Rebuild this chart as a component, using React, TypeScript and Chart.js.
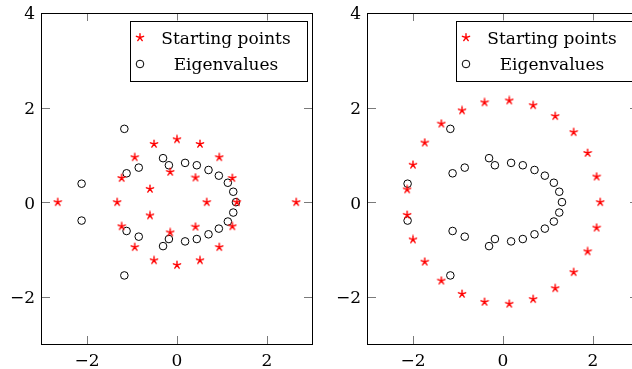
import { useEffect, useRef } from "react";
import { Chart, registerables } from "chart.js";

Chart.register(...registerables);

const xTicks = [-2, 0, 2];
const yTicks = [-2, 0, 2, 4];

const legendLabels = ["Starting points", "Eigenvalues"];

const leftStartX = [-2.65, 2.65, 1.33, 1.23, 0.94, 0.51, 0, -0.51, -0.94, -1.23, -1.33, -1.23, -0.94, -0.51, 0, 0.51, 0.94, 1.23, 0.66, 0.41, -0.15, -0.6, -0.6, -0.15, 0.41];
const leftStartY = [0, 0, 0, 0.51, 0.95, 1.23, 1.33, 1.23, 0.95, 0.51, 0, -0.51, -0.95, -1.23, -1.33, -1.23, -0.95, -0.51, 0, 0.52, 0.64, 0.28, -0.28, -0.64, -0.52];

const rightStartX = [2.16, 2.08, 1.88, 1.57, 1.16, 0.67, 0.14, -0.41, -0.91, -1.37, -1.74, -2.0, -2.13, -2.13, -2.0, -1.74, -1.37, -0.91, -0.41, 0.14, 0.67, 1.16, 1.57, 1.88, 2.08];
const rightStartY = [0, 0.54, 1.04, 1.48, 1.82, 2.05, 2.15, 2.11, 1.94, 1.66, 1.26, 0.79, 0.27, -0.27, -0.79, -1.26, -1.66, -1.94, -2.11, -2.15, -2.05, -1.82, -1.48, -1.04, -0.54];

const eigX = [1.31, 1.25, 1.13, 0.93, 0.7, 0.44, 0.18, -0.18, -0.31, -0.85, -1.12, -1.17, -2.12, -2.12, -1.17, -1.12, -0.85, -0.31, -0.18, 0.18, 0.44, 0.7, 0.93, 1.13, 1.25];
const eigY = [0, 0.22, 0.41, 0.56, 0.68, 0.78, 0.83, 0.78, 0.93, 0.73, 0.61, 1.55, 0.39, -0.39, -1.55, -0.61, -0.73, -0.93, -0.78, -0.83, -0.78, -0.68, -0.56, -0.41, -0.22];

const FONT = "DejaVu Serif";
const FONT_SIZE = 17;
const RED = "#ff0000";

function fmt(v: number) {
  return v < 0 ? "\u2212" + Math.abs(v) : String(v);
}

function drawStar(ctx: CanvasRenderingContext2D, cx: number, cy: number, r: number) {
  ctx.save();
  ctx.strokeStyle = RED;
  ctx.lineWidth = 1.4;
  ctx.lineCap = "round";
  ctx.beginPath();
  for (let k = 0; k < 5; k++) {
    const a = -Math.PI / 2 + (k * 2 * Math.PI) / 5;
    ctx.moveTo(cx, cy);
    ctx.lineTo(cx + r * Math.cos(a), cy + r * Math.sin(a));
  }
  ctx.stroke();
  ctx.restore();
}

function makeStar(): HTMLCanvasElement {
  const c = document.createElement("canvas");
  c.width = 10;
  c.height = 10;
  const ctx = c.getContext("2d")!;
  drawStar(ctx, 5, 5, 3.8);
  return c;
}

function Panel({ sx, sy, left }: { sx: number[]; sy: number[]; left: number }) {
  const ref = useRef<HTMLCanvasElement>(null);
  useEffect(() => {
    const star = makeStar();
    const framePlugin = {
      id: "frame",
      afterDraw(chart: any) {
        const { ctx, chartArea } = chart;
        const { left: l, right: r, top: t, bottom: b } = chartArea;
        const xs = chart.scales.x;
        const ys = chart.scales.y;
        ctx.save();
        ctx.strokeStyle = "#7a7a7a";
        ctx.lineWidth = 1;
        ctx.beginPath();
        const tl = 8;
        xTicks.forEach((v) => {
          const px = Math.round(xs.getPixelForValue(v)) + 0.5;
          ctx.moveTo(px, b);
          ctx.lineTo(px, b - tl);
          ctx.moveTo(px, t);
          ctx.lineTo(px, t + tl);
        });
        yTicks.forEach((v) => {
          const py = Math.round(ys.getPixelForValue(v)) + 0.5;
          ctx.moveTo(l, py);
          ctx.lineTo(l + tl, py);
          ctx.moveTo(r, py);
          ctx.lineTo(r - tl, py);
        });
        ctx.stroke();
        ctx.strokeStyle = "#000";
        ctx.lineWidth = 1;
        ctx.strokeRect(l - 0.5, t + 0.5, r - l + 1, b - t);
        const lx = r - 182;
        const lr = r - 5.5;
        const lt = t + 7.5;
        const lh = 60;
        ctx.fillStyle = "#fff";
        ctx.fillRect(lx, lt, lr - lx, lh);
        ctx.strokeStyle = "#000";
        ctx.strokeRect(Math.round(lx) + 0.5, Math.round(lt) + 0.5, Math.round(lr - lx), lh);
        const mx = lx + 10;
        drawStar(ctx, mx, lt + 17, 3.8);
        ctx.beginPath();
        ctx.arc(mx, lt + 43.5, 3.8, 0, Math.PI * 2);
        ctx.strokeStyle = "#000";
        ctx.stroke();
        ctx.fillStyle = "#000";
        ctx.font = `${FONT_SIZE}px "${FONT}"`;
        ctx.textAlign = "center";
        ctx.textBaseline = "alphabetic";
        ctx.fillText(legendLabels[0], lx + 96, lt + 23);
        ctx.fillText(legendLabels[1], lx + 96, lt + 49);
        ctx.restore();
      },
    };
    const chart = new Chart(ref.current!, {
      type: "scatter",
      data: {
        datasets: [
          {
            label: legendLabels[0],
            data: sx.map((x, i) => ({ x, y: sy[i] })),
            pointStyle: star as any,
            pointRadius: 4,
            borderColor: RED,
            backgroundColor: RED,
          },
          {
            label: legendLabels[1],
            data: eigX.map((x, i) => ({ x, y: eigY[i] })),
            pointStyle: "circle",
            pointRadius: 3.8,
            borderWidth: 1,
            borderColor: "#000",
            backgroundColor: "rgba(0,0,0,0)",
          },
        ],
      },
      options: {
        animation: false,
        responsive: false,
        devicePixelRatio: 1,
        events: [],
        layout: { padding: { top: 13, right: 8, left: 0, bottom: 0 } },
        plugins: { legend: { display: false }, tooltip: { enabled: false } },
        scales: {
          x: {
            type: "linear",
            min: -3,
            max: 3,
            afterBuildTicks: (s: any) => {
              s.ticks = xTicks.map((v) => ({ value: v }));
            },
            afterFit: (s: any) => {
              s.height = 25;
              s.paddingLeft = 0;
              s.paddingRight = 0;
            },
            grid: { display: false, drawTicks: false },
            border: { display: false },
            ticks: {
              font: { family: FONT, size: FONT_SIZE },
              color: "#000",
              padding: 7,
              maxRotation: 0,
              autoSkip: false,
              callback: (v: any) => fmt(Number(v)),
            },
          },
          y: {
            type: "linear",
            min: -3,
            max: 4,
            afterBuildTicks: (s: any) => {
              s.ticks = yTicks.map((v) => ({ value: v }));
            },
            afterFit: (s: any) => {
              s.width = 42;
              s.paddingTop = 0;
              s.paddingBottom = 0;
            },
            grid: { display: false, drawTicks: false },
            border: { display: false },
            ticks: {
              font: { family: FONT, size: FONT_SIZE },
              color: "#000",
              padding: 7,
              labelOffset: 2,
              autoSkip: false,
              callback: (v: any) => fmt(Number(v)),
            },
          },
        },
      },
      plugins: [framePlugin],
    });
    return () => chart.destroy();
  }, []);
  return (
    <canvas
      ref={ref}
      width={320}
      height={369}
      style={{ position: "absolute", left, top: 0, width: 320, height: 369 }}
    />
  );
}

export default function App() {
  return (
    <div
      style={{
        position: "fixed",
        left: 0,
        top: 0,
        width: 632,
        height: 369,
        overflow: "hidden",
        background: "#fff",
      }}
    >
      <Panel sx={leftStartX} sy={leftStartY} left={0} />
      <Panel sx={rightStartX} sy={rightStartY} left={326} />
    </div>
  );
}
